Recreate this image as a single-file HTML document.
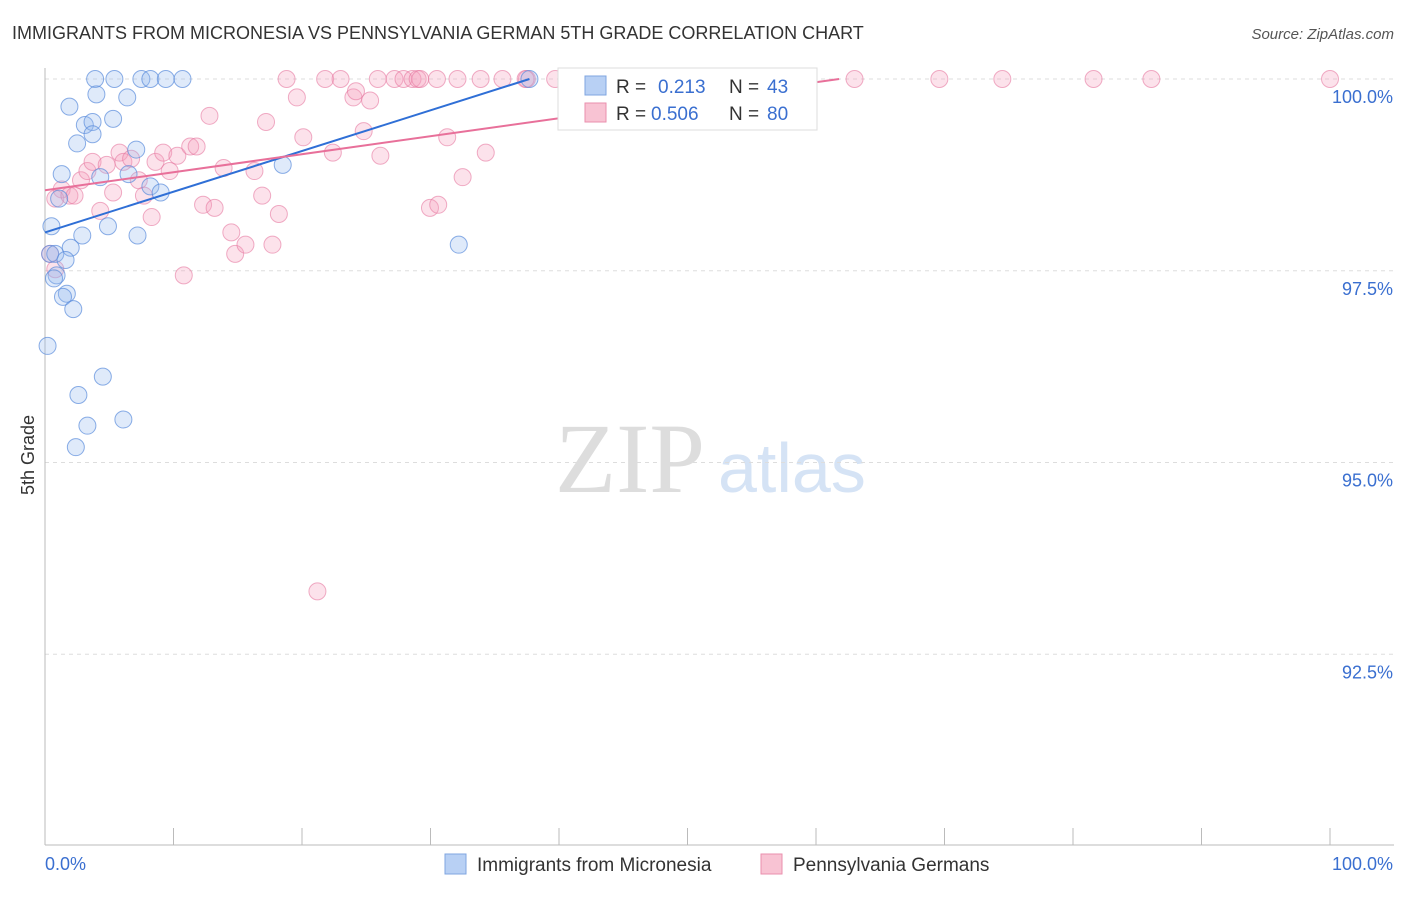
<!DOCTYPE html>
<html><head><meta charset="utf-8"><style>
body{margin:0;background:#fff;font-family:"Liberation Sans",sans-serif;}
</style></head><body>
<svg id="chart" width="1406" height="892" xmlns="http://www.w3.org/2000/svg" font-family="Liberation Sans, sans-serif">
<text x="12" y="39" font-size="18" fill="#333">IMMIGRANTS FROM MICRONESIA VS PENNSYLVANIA GERMAN 5TH GRADE CORRELATION CHART</text>
<text x="1394" y="39" font-size="15" fill="#555" font-style="italic" text-anchor="end">Source: ZipAtlas.com</text>
<text x="555" y="492" font-size="100" fill="#ddd" font-family="Liberation Serif, serif">ZIP</text>
<text x="718" y="492" font-size="70" fill="#d5e3f5">atlas</text>
<text x="34" y="455" font-size="18" fill="#333" transform="rotate(-90 34 455)" text-anchor="middle">5th Grade</text>
<g id="grid"></g><g id="pts"></g><g id="lines"></g>
<g>
<rect x="558" y="68" width="259" height="62" fill="#fff" stroke="#ddd"/>
<rect x="585" y="76" width="21" height="19" fill="#b8d0f4" stroke="#7fa6e0"/>
<text x="616" y="93" font-size="19" fill="#333">R = </text><text x="658" y="93" font-size="19" fill="#3a6fd0">0.213</text>
<text x="729" y="93" font-size="19" fill="#333">N = </text><text x="767" y="93" font-size="19" fill="#3a6fd0">43</text>
<rect x="585" y="103" width="21" height="19" fill="#f8c3d3" stroke="#ea8fae"/>
<text x="616" y="120" font-size="19" fill="#333">R = </text><text x="651" y="120" font-size="19" fill="#3a6fd0">0.506</text>
<text x="729" y="120" font-size="19" fill="#333">N = </text><text x="767" y="120" font-size="19" fill="#3a6fd0">80</text>
</g>
<g>
<rect x="445" y="854" width="21" height="20" fill="#b8d0f4" stroke="#7fa6e0"/>
<text x="477" y="871" font-size="19" fill="#333">Immigrants from Micronesia</text>
<rect x="761" y="854" width="21" height="20" fill="#f8c3d3" stroke="#ea8fae"/>
<text x="793" y="871" font-size="19" fill="#333">Pennsylvania Germans</text>
</g>
</svg>
<script>
const NS="http://www.w3.org/2000/svg";
const yTicks=[100,97.5,95,92.5];
const yTickLabels=["100.0%","97.5%","95.0%","92.5%"];
const xTickCount=10;
const blueX=[3.9,5.4,7.5,8.2,9.4,10.7,1.9,4.0,6.4,5.3,3.1,3.7,3.7,2.5,7.1,1.3,4.3,6.5,8.2,9.0,1.1,18.5,0.5,4.9,7.2,2.9,2.0,0.4,0.8,1.6,0.9,0.7,1.7,1.4,2.2,0.2,4.5,2.6,6.1,3.3,2.4,32.2,37.7];
const blueY=[100,100,100,100,100,100,99.64,99.8,99.76,99.48,99.4,99.44,99.28,99.16,99.08,98.76,98.72,98.76,98.6,98.52,98.44,98.88,98.08,98.08,97.96,97.96,97.8,97.72,97.72,97.64,97.44,97.4,97.2,97.16,97.0,96.52,96.12,95.88,95.56,95.48,95.2,97.84,100];
const pinkX=[1.3,0.8,1.9,2.3,2.8,3.3,3.7,4.3,4.8,5.3,5.8,6.1,6.7,7.3,7.7,8.3,8.6,9.2,9.7,10.3,11.3,11.8,10.8,12.3,12.8,13.2,13.9,14.5,14.8,15.6,16.3,16.9,17.2,17.7,18.2,18.8,19.6,20.1,21.2,21.8,22.4,23.0,24.0,24.2,24.8,25.3,25.9,26.1,27.2,27.9,28.6,29.0,29.2,30.5,29.96,30.6,31.3,32.1,32.5,33.9,34.3,35.6,37.5,39.7,42.4,46.3,47.1,54.2,57.6,58.8,63.0,69.6,74.5,81.6,86.1,100,0.8,0.4,37.4,48.0];
const pinkY=[98.56,98.44,98.48,98.48,98.68,98.8,98.92,98.28,98.88,98.52,99.04,98.92,98.96,98.68,98.48,98.2,98.92,99.04,98.8,99.0,99.12,99.12,97.44,98.36,99.52,98.32,98.84,98.0,97.72,97.84,98.8,98.48,99.44,97.84,98.24,100,99.76,99.24,93.32,100,99.04,100,99.76,99.84,99.32,99.72,100,99.0,100,100,100,100,100,100,98.32,98.36,99.24,100,98.72,100,99.04,100,100,100,100,100,100,100,100,100,100,100,100,100,100,100,97.52,97.72,100,100];
const blueFit=[[0,98.0],[37.7,100]];
const pinkFit=[[0,98.55],[61.8,100]];
const X0=45,X1=1330,Y100=79,PX=76.7;
const sx=v=>X0+(X1-X0)*v/100, sy=v=>Y100+(100-v)*PX;
function mk(tag,attrs,parent){const e=document.createElementNS(NS,tag);for(const k in attrs)e.setAttribute(k,attrs[k]);parent.appendChild(e);return e;}
const grid=document.getElementById('grid');
yTicks.forEach((t,i)=>{
 const l=mk('line',{x1:X0,x2:1394,y1:sy(t),y2:sy(t),stroke:'#ddd','stroke-dasharray':'4,4'},grid);
 
 
 const tx=mk('text',{x:1393,y:sy(t)+24,'font-size':18,fill:'#3a6fd0','text-anchor':'end'},grid);
 tx.textContent=yTickLabels[i];
 
 
});
const ax=mk('line',{x1:X0,x2:1394,y1:845,y2:845,stroke:'#bbb'},grid);


const ay=mk('line',{x1:X0,x2:X0,y1:68,y2:845,stroke:'#bbb'},grid);


for(let i=0;i<=xTickCount;i++){
 const t=mk('line',{x1:sx(i*10),x2:sx(i*10),y1:828,y2:845,stroke:'#bbb'},grid);
 
 
}
const xl=mk('text',{x:45,y:870,'font-size':18,fill:'#3a6fd0'},grid);xl.textContent='0.0%';


const xr=mk('text',{x:1393,y:870,'font-size':18,fill:'#3a6fd0','text-anchor':'end'},grid);xr.textContent='100.0%';


const pts=document.getElementById('pts');
pinkX.forEach((x,i)=>{
 const c=mk('circle',{cx:sx(x),cy:sy(pinkY[i]),r:8.5,fill:'rgba(245,160,190,0.3)',stroke:'rgba(230,120,160,0.6)'},pts);
 
 
});
blueX.forEach((x,i)=>{
 const c=mk('circle',{cx:sx(x),cy:sy(blueY[i]),r:8.5,fill:'rgba(150,185,240,0.3)',stroke:'rgba(90,140,220,0.7)'},pts);
 
 
});
const lines=document.getElementById('lines');
const bl=mk('line',{x1:sx(blueFit[0][0]),y1:sy(blueFit[0][1]),x2:sx(blueFit[1][0]),y2:sy(blueFit[1][1]),stroke:'#2f6fd6','stroke-width':2},lines);


const pl=mk('line',{x1:sx(pinkFit[0][0]),y1:sy(pinkFit[0][1]),x2:sx(pinkFit[1][0]),y2:sy(pinkFit[1][1]),stroke:'#e8709a','stroke-width':2},lines);


</script>
</body></html>
